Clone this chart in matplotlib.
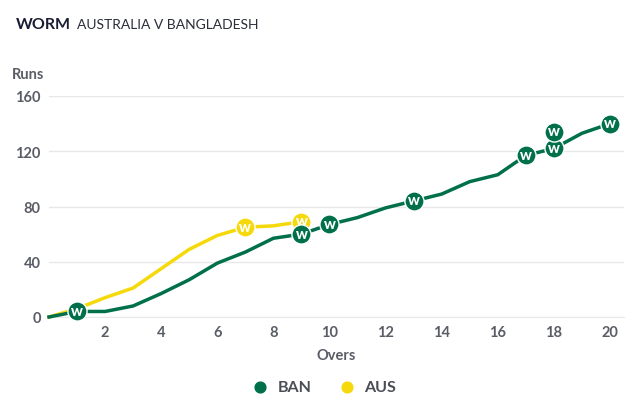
import matplotlib.pyplot as plt
from matplotlib.transforms import offset_copy

plt.rcParams["font.family"] = ["Lato", "DejaVu Sans"]

overs_ban = list(range(0, 21))
runs_ban = [0, 4, 4, 8, 17, 27, 39, 47, 57, 60, 67, 72, 79, 84, 89, 98, 103, 117, 122, 133, 140]
wickets_ban = [1, 9, 10, 13, 17, 18, 18, 20]

overs_aus = list(range(0, 10))
runs_aus = [0, 6, 14, 21, 35, 49, 59, 65, 66, 69]
wickets_aus = [7, 9]

green = "#00704a"
yellow = "#f5d90a"
grey = "#5a5d66"

fig = plt.figure(figsize=(6.4, 4.06), dpi=100)
ax = fig.add_axes([49 / 640, 88 / 406, 575 / 640, 221 / 406])

ax.plot(overs_ban, runs_ban, color=green, lw=2.5, zorder=3, clip_on=False)
ax.plot(overs_aus, runs_aus, color=yellow, lw=2.5, zorder=2, clip_on=False)


def draw_wickets(overs, runs, wkts, color, z):
    seen = {}
    for o in wkts:
        n = seen.get(o, 0)
        seen[o] = n + 1
        tr = offset_copy(ax.transData, fig=fig, x=0, y=n * 12, units="points")
        y = runs[overs.index(o)]
        ax.scatter([o], [y], s=190, color=color, edgecolors="white", linewidths=1.0,
                   transform=tr, zorder=z, clip_on=False)
        ax.text(o, y, "W", color="white", fontsize=8, fontweight="heavy",
                ha="center", va="center", transform=tr, zorder=z + 1)


draw_wickets(overs_aus, runs_aus, wickets_aus, yellow, 4)
draw_wickets(overs_ban, runs_ban, wickets_ban, green, 6)

ax.set_xlim(0, 20.5)
ax.set_ylim(0, 160)
ax.set_xticks(range(2, 21, 2))
ax.set_yticks(range(0, 161, 40))
ax.grid(axis="y", color="#e8e8ec", lw=1)
ax.set_axisbelow(True)
for s in ["top", "right", "left"]:
    ax.spines[s].set_visible(False)
ax.spines["bottom"].set_color("#e8e8ec")
ax.tick_params(length=0, labelsize=10.5, labelcolor=grey, pad=6)
for lbl in ax.get_xticklabels() + ax.get_yticklabels():
    lbl.set_fontweight("bold")

ax.set_xlabel("Overs", fontsize=10.5, color=grey, fontweight="bold", labelpad=6)
fig.text(12 / 640, 1 - 75 / 406, "Runs", fontsize=10.5, color=grey, fontweight="bold", va="center")

fig.text(16 / 640, 1 - 25 / 406, "WORM", fontsize=11.5, fontweight="bold", color="#1a1d33", va="center")
fig.text(77 / 640, 1 - 25 / 406, "AUSTRALIA V BANGLADESH", fontsize=10, color="#2a2d3a", va="center")

h1 = ax.scatter([], [], s=60, color=green, label="BAN")
h2 = ax.scatter([], [], s=60, color=yellow, label="AUS")
leg = fig.legend(handles=[h1, h2], loc="center", bbox_to_anchor=(0.5, 1 - 388 / 406), ncol=2,
                 frameon=False, handletextpad=0.1, columnspacing=1.2, fontsize=11.5)
for t in leg.get_texts():
    t.set_color("#4a4d55")
    t.set_fontweight("bold")

fig.savefig("out.png", dpi=100)
